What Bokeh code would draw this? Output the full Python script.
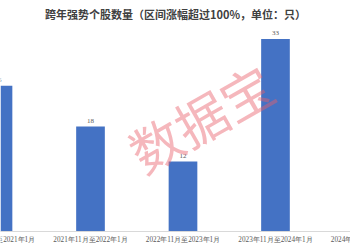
from bokeh.plotting import figure
from bokeh.models import Range1d, ColumnDataSource, Label, LabelSet, Span
from bokeh.embed import file_html
from bokeh.resources import INLINE

title_text = "跨年强势个股数量（区间涨幅超过100%，单位：只）"
periods = ["2020年11月至2021年1月", "2021年11月至2022年1月", "2022年11月至2023年1月",
           "2023年11月至2024年1月", "2024年11月至2025年1月"]
counts = [25, 18, 12, 33, None]

xs = list(range(len(periods)))
src = ColumnDataSource(dict(x=xs[:4], top=counts[:4], lab=[str(c) for c in counts[:4]]))
cat_src = ColumnDataSource(dict(x=xs, y=[0] * len(xs), lab=periods))

p = figure(width=350, height=250, output_backend="svg", toolbar_location=None,
           x_range=Range1d(0.027, 3.811), y_range=Range1d(-3.26, 39.62),
           min_border_left=0, min_border_right=0, min_border_top=0, min_border_bottom=0,
           outline_line_color=None, background_fill_color="white", border_fill_color="white")

p.vbar(x="x", top="top", width=0.31, bottom=0, source=src, color="#4472C4", line_color=None)

labels = LabelSet(x="x", y="top", text="lab", source=src, text_align="center", y_offset=4,
                  text_baseline="bottom",
                  text_font_size="7px", text_color="#595959", text_font="Noto Sans CJK SC")
p.add_layout(labels)

cat_labels = LabelSet(x="x", y="y", text="lab", source=cat_src, text_align="center",
                      text_baseline="middle", y_offset=-9,
                      text_font_size="7.2px", text_color="#595959", text_font="Noto Sans CJK SC")
p.add_layout(cat_labels)

p.add_layout(Span(location=0, dimension="width", line_color="#d9d9d9", line_width=1))

wm = Label(x=2.19, y=19.6, text="数据宝", angle=0.52, text_align="center", text_baseline="middle",
           text_font="Noto Sans CJK SC", text_font_size="52px", text_color="#e8606a", text_alpha=0.45)
p.add_layout(wm)

title = Label(x=175, y=237, x_units="screen", y_units="screen", text=title_text,
              text_align="center", text_baseline="middle", text_font="Noto Sans CJK SC",
              text_font_size="11px", text_font_style="bold", text_color="#404040")
p.add_layout(title)

p.xgrid.visible = False
p.ygrid.visible = False
p.yaxis.visible = False
p.xaxis.visible = False

open("out.html", "w").write(file_html(p, INLINE))
